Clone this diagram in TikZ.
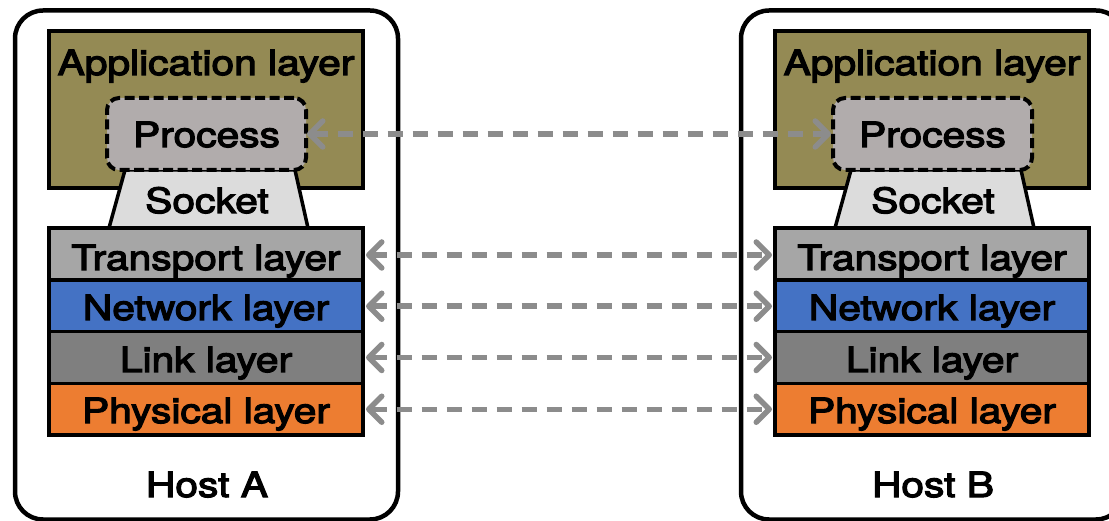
\documentclass[tikz,border=0pt]{standalone}
\usepackage{fontspec}
\setmainfont{TeX Gyre Heros}
\usepackage{graphicx}
\usetikzlibrary{arrows.meta}
\definecolor{appcol}{HTML}{948A54}
\definecolor{proccol}{HTML}{B1ACAC}
\definecolor{sockcol}{HTML}{DCDCDC}
\definecolor{transcol}{HTML}{A6A6A6}
\definecolor{netcol}{HTML}{4472C4}
\definecolor{linkcol}{HTML}{7F7F7F}
\definecolor{physcol}{HTML}{ED7D31}
\definecolor{arrcol}{HTML}{8C8C8C}
\newcommand{\wtxt}[1]{\scalebox{1.17}[1]{\special{pdf:literal direct 2 Tr 1.1 w}#1\special{pdf:literal direct 0 Tr}}}
\begin{document}
\begin{tikzpicture}[x=1pt,y=-1pt,
 hostbox/.style={draw=black, line width=4.5pt, rounded corners=28pt, minimum width=383pt, minimum height=509pt, inner sep=0pt, outer sep=0pt},
 layerbox/.style={draw=black, line width=3.5pt, minimum width=314pt, minimum height=51.75pt, inner sep=0pt, outer sep=0pt},
 lbl/.style={anchor=base, inner sep=0pt, font=\fontsize{34.8}{40}\selectfont},
 procbox/.style={draw=black, line width=4pt, dash pattern=on 10pt off 4.5pt, rounded corners=12pt, fill=proccol, minimum width=199pt, minimum height=72pt, inner sep=0pt, outer sep=0pt},
 sockbox/.style={draw=black, line width=3.5pt, fill=sockcol, line join=miter},
 conn/.style={draw=arrcol, line width=5.5pt, dash pattern=on 15pt off 10pt,
   {Straight Barb[length=13pt,width=26pt,round]}-{Straight Barb[length=13pt,width=26pt,round]}},
]
\useasboundingbox (0,0) rectangle (1109,521);
\clip (0,0) rectangle (1109,521);
\foreach \s/\dx in {A/0, B/726}{
  \begin{scope}[xshift=\dx pt]
  \node[hostbox] (host\s) at (206.5,265) {};
  \node[layerbox, fill=appcol, minimum height=157pt] (app\s) at (206,109.5) {};
  \node[lbl] (appt\s) at (206,75) {\wtxt{Application layer}};
  \draw[sockbox] (125,170) -- (109,228) -- (308,228) -- (295,170) -- cycle;
  \node[lbl] (sock\s) at (207,213) {\wtxt{Socket}};
  \node[procbox] (proc\s) at (206.5,134) {};
  \node[lbl] (proct\s) at (206.5,147) {\wtxt{Process}};
  \node[layerbox, fill=transcol] (tr\s) at (206,254) {};
  \node[layerbox, fill=netcol] (net\s) at (206,305.75) {};
  \node[layerbox, fill=linkcol] (lnk\s) at (206,357.5) {};
  \node[layerbox, fill=physcol] (phy\s) at (206,409.25) {};
  \node[lbl] (trt\s) at (206,270) {\wtxt{Transport layer}};
  \node[lbl] (nett\s) at (206,320) {\wtxt{Network layer}};
  \node[lbl] (lnkt\s) at (206,372) {\wtxt{Link layer}};
  \node[lbl] (phyt\s) at (206,423) {\wtxt{Physical layer}};
  \end{scope}
}
\node[lbl] (hostlA) at (207,497) {\wtxt{Host A}};
\node[lbl] (hostlB) at (933,497) {\wtxt{Host B}};
\draw[conn, shorten <=1pt, shorten >=2pt] (procA.east) -- (procB.west);
\draw[conn, shorten <=3pt, shorten >=3pt] ([yshift=-1pt]trA.east) -- ([yshift=-1pt]trB.west);
\draw[conn, shorten <=3pt, shorten >=3pt] ([yshift=-0.5pt]netA.east) -- ([yshift=-0.5pt]netB.west);
\draw[conn, shorten <=3pt, shorten >=3pt] (lnkA.east) -- (lnkB.west);
\draw[conn, shorten <=3pt, shorten >=3pt] (phyA.east) -- (phyB.west);
\end{tikzpicture}
\end{document}
